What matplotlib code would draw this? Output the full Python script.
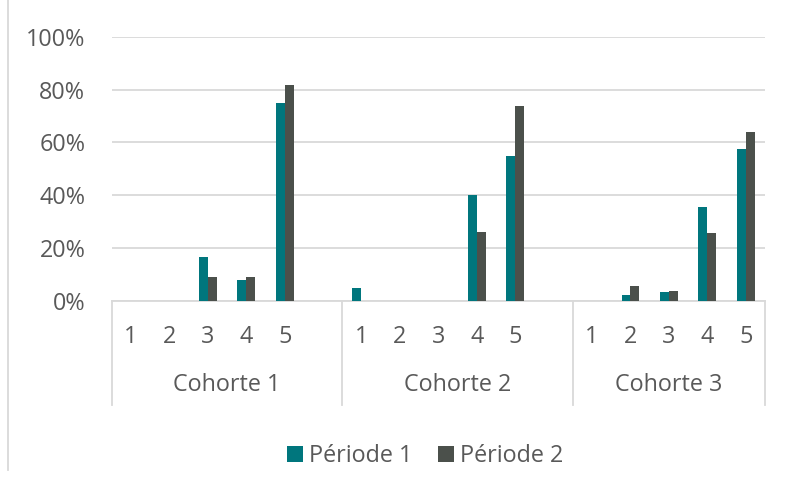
import numpy as np
from matplotlib import pyplot as plt
from matplotlib.lines import Line2D

plt.rcParams['font.family'] = ['Open Sans', 'DejaVu Sans']
plt.rcParams['font.size'] = 16.8
plt.rcParams['text.color'] = '#595959'

# categories: each cohort has slots 1..5, cohorts 1 and 2 carry an empty slot after 5
cohortes = ["Cohorte 1", "Cohorte 2", "Cohorte 3"]
slots = [["1", "2", "3", "4", "5", ""],
         ["1", "2", "3", "4", "5", ""],
         ["1", "2", "3", "4", "5"]]

periode1 = [[0.0, 0.0, 0.165, 0.079, 0.748, np.nan],
            [0.048, 0.0, 0.0, 0.40, 0.549, np.nan],
            [0.0, 0.023, 0.035, 0.357, 0.575]]
periode2 = [[0.0, 0.0, 0.090, 0.090, 0.817, np.nan],
            [0.0, 0.0, 0.0, 0.26, 0.738, np.nan],
            [0.0, 0.057, 0.038, 0.258, 0.638]]

yticks = [0, 0.2, 0.4, 0.6, 0.8, 1.0]
ytick_labels = ["0%", "20%", "40%", "60%", "80%", "100%"]

c1 = '#00767d'
c2 = '#4b504b'
grid_c = '#d9d9d9'

fig = plt.figure(figsize=(785/100, 479/100), dpi=100)
ax = fig.add_axes([111.7/785, 1 - 301/479, (765 - 111.7)/785, (301 - 36.7)/479])

labels = [s for grp in slots for s in grp]
v1 = np.array([v for grp in periode1 for v in grp])
v2 = np.array([v for grp in periode2 for v in grp])
n = len(labels)
x = np.arange(n) + 0.5
w = 0.234

ax.bar(x - w/2, np.nan_to_num(v1), w, color=c1, label="Période 1", zorder=3)
ax.bar(x + w/2, np.nan_to_num(v2), w, color=c2, label="Période 2", zorder=3)

ax.set_xlim(0, n)
ax.set_ylim(0, 1)
ax.set_yticks(yticks)
ax.set_yticklabels(ytick_labels)
ax.tick_params(axis='y', length=0, pad=19, labelcolor='#595959')
ax.set_xticks([])
ax.grid(axis='y', color=grid_c, linewidth=1.3, zorder=0)
for s in ['top', 'right', 'left']:
    ax.spines[s].set_visible(False)
ax.spines['bottom'].set_color(grid_c)
ax.spines['bottom'].set_linewidth(1.3)

# two-level category axis
trans = ax.get_xaxis_transform()
for xi, lab in zip(x, labels):
    ax.text(xi, -0.137, lab, transform=trans, ha='center', va='center')

edges = [0]
for grp in slots:
    edges.append(edges[-1] + len(grp))
for e in edges:
    ax.add_line(Line2D([e, e], [0, -0.393], transform=trans, color=grid_c,
                       linewidth=1.3, clip_on=False))
for i, name in enumerate(cohortes):
    ax.text((edges[i] + edges[i+1]) / 2, -0.318, name, transform=trans,
            ha='center', va='center')

# chart frame edge on the left
fig.add_artist(Line2D([8/785, 8/785], [1, 1 - 470/479], transform=fig.transFigure,
                      color=grid_c, linewidth=1.3))

fig.legend(loc='center', bbox_to_anchor=(425/785, 1 - 456/479), ncol=2,
           frameon=False, handlelength=0.7, handleheight=0.7,
           handletextpad=0.25, columnspacing=1.1)

fig.savefig('out.png', dpi=100)
